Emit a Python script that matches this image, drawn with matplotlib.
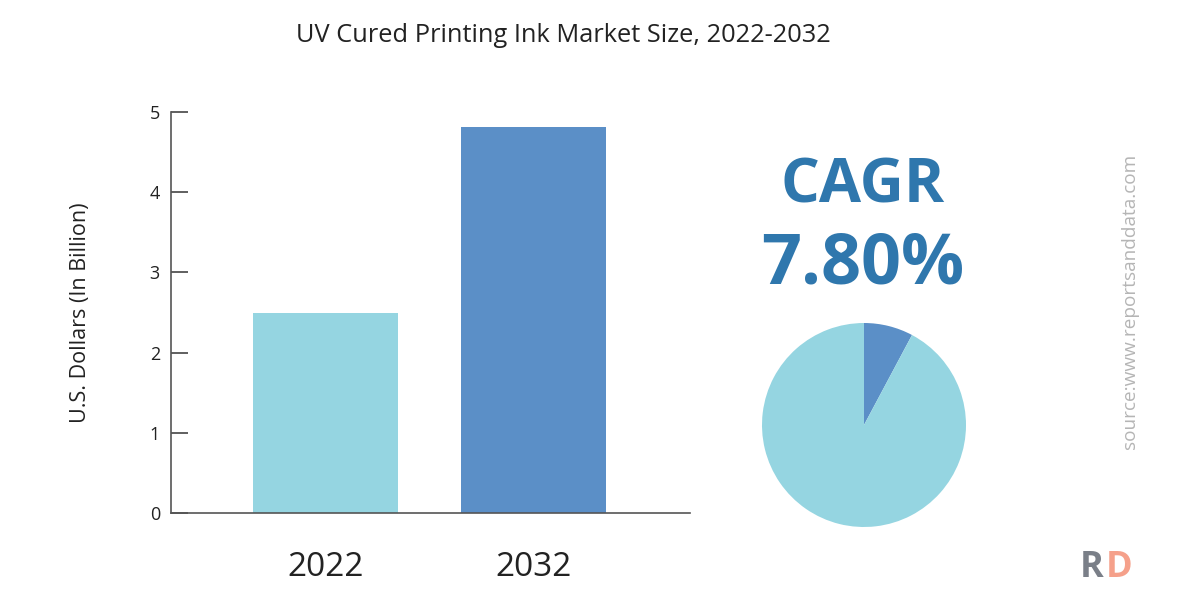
import matplotlib.pyplot as plt

years = ["2022", "2032"]
market_size = [2.5, 4.81]
cagr_pct = 7.80
y_ticks = [0, 1, 2, 3, 4, 5]

light = "#95d5e1"
dark = "#5b8fc7"
blue_text = "#2f77ad"

plt.rcParams['font.family'] = ['Open Sans', 'DejaVu Sans']

fig = plt.figure(figsize=(12, 6), dpi=100)

# bar chart
ax = fig.add_axes([171 / 1200, 1 - 513 / 600, (690 - 171) / 1200, (513 - 112) / 600])
ax.bar([0, 1], market_size, width=0.70, color=[light, dark])
ax.set_xlim(-0.743, 1.752)
ax.set_ylim(0, 5)
ax.set_yticks(y_ticks)
ax.set_xticks([0, 1])
ax.set_xticklabels(years, fontsize=24, color="#222222")
ax.tick_params(axis="x", length=0, pad=27)
ax.tick_params(axis="y", direction="in", length=12, width=1.2, color="#444444",
               labelsize=13, labelcolor="#222222", pad=8)
for s in ["top", "right"]:
    ax.spines[s].set_visible(False)
for s in ["left", "bottom"]:
    ax.spines[s].set_color("#555555")
    ax.spines[s].set_linewidth(1.2)
ax.set_ylabel("U.S. Dollars (In Billion)", fontsize=15.5, color="#222222", labelpad=42)

fig.text(563 / 1200, 1 - 36 / 600, "UV Cured Printing Ink Market Size, 2022-2032",
         ha="center", va="center", fontsize=18.3, color="#222222")

# CAGR
fig.text(863 / 1200, 1 - 187 / 600, "CAGR", ha="center", va="center",
         fontsize=44, fontweight="bold", color=blue_text)
fig.text(863 / 1200, 1 - 265 / 600, f"{cagr_pct:.2f}%", ha="center", va="center",
         fontsize=50.5, fontweight="bold", color=blue_text)

# pie
pax = fig.add_axes([(864 - 102) / 1200, 1 - (425 + 102) / 600, 204 / 1200, 204 / 600])
pax.pie([cagr_pct, 100 - cagr_pct], colors=[dark, light], startangle=90,
        counterclock=False, radius=1.0, wedgeprops=dict(linewidth=0))
pax.set_xlim(-1, 1)
pax.set_ylim(-1, 1)
pax.set_aspect("equal")

fig.text(1130 / 1200, 1 - 301 / 600, "source:www.reportsanddata.com", rotation=90,
         ha="center", va="center", fontsize=13.7, color="#b5b5b5")

# logo
fig.text(1092 / 1200, 1 - 568 / 600, "R", ha="center", va="center",
         fontsize=26, fontweight="bold", color="#7a7f88")
fig.text(1119 / 1200, 1 - 568 / 600, "D", ha="center", va="center",
         fontsize=26, fontweight="bold", color="#f5a08a")

fig.savefig("out.png", dpi=100)
